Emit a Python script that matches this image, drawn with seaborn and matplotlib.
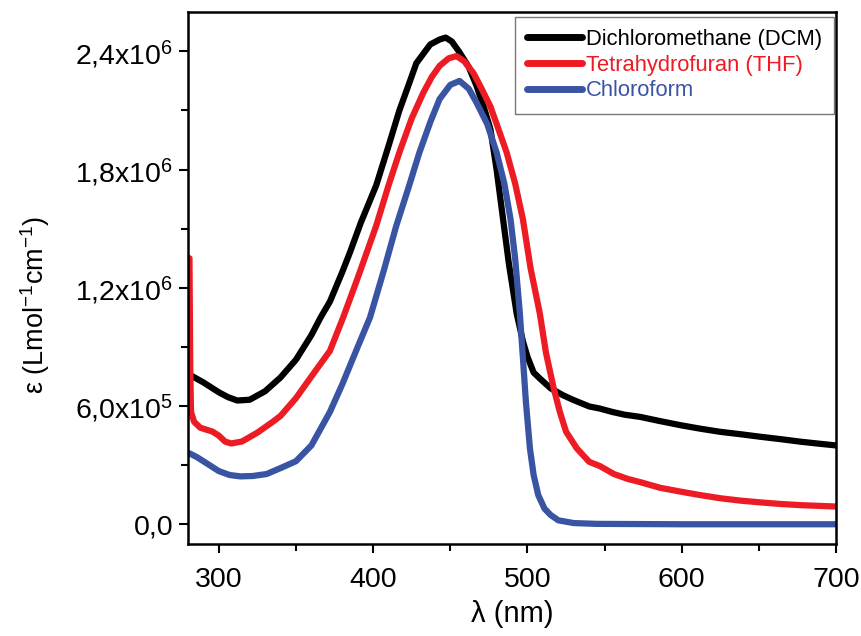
import pandas as pd
import matplotlib.pyplot as plt
import seaborn as sns
from matplotlib.ticker import MultipleLocator, FixedLocator

# Values (wavelength in nm, epsilon in 1e6 L/mol/cm)
dcm_x = [282, 290, 300, 306, 312, 320, 330, 340, 350, 360, 366, 372, 380, 385, 392,
         402, 410, 417, 423, 428, 437, 443, 447, 451, 456, 462, 467, 472, 476, 480,
         484, 488, 493, 497, 500, 504, 508, 515, 523, 530, 540, 547, 555, 563, 573,
         585, 599, 612, 625, 638, 651, 664, 677, 690, 700]
dcm_y = [0.755, 0.72, 0.67, 0.645, 0.628, 0.632, 0.675, 0.745, 0.835, 0.96, 1.05, 1.13,
         1.28, 1.38, 1.53, 1.72, 1.92, 2.10, 2.23, 2.34, 2.435, 2.46, 2.47, 2.45, 2.395,
         2.32, 2.225, 2.11, 2.005, 1.80, 1.56, 1.32, 1.07, 0.93, 0.85, 0.77, 0.74, 0.69,
         0.655, 0.63, 0.598, 0.587, 0.57, 0.556, 0.545, 0.525, 0.503, 0.485, 0.469,
         0.457, 0.444, 0.432, 0.419, 0.408, 0.40]

thf_x = [281, 281.5, 282, 284, 288, 292, 296, 300, 304, 308, 315, 325, 335, 340, 350,
         360, 372, 380.6, 390, 402, 410, 417, 425, 432.5, 438, 443, 449, 454, 459, 465,
         470, 476, 481, 486.5, 492, 497, 502, 508, 512, 517, 521, 525, 532, 540, 547,
         556, 565, 573, 586, 599, 612, 625, 638, 651, 664, 677, 690, 700]
thf_y = [1.35, 0.80, 0.57, 0.52, 0.49, 0.48, 0.47, 0.45, 0.42, 0.41, 0.42, 0.465, 0.52,
         0.55, 0.64, 0.75, 0.88, 1.05, 1.25, 1.515, 1.72, 1.887, 2.06, 2.19, 2.27, 2.326,
         2.365, 2.376, 2.35, 2.29, 2.215, 2.12, 2.01, 1.887, 1.73, 1.55, 1.30, 1.07, 0.87,
         0.69, 0.57, 0.47, 0.385, 0.317, 0.295, 0.255, 0.23, 0.214, 0.185, 0.166, 0.148,
         0.132, 0.12, 0.111, 0.103, 0.097, 0.093, 0.09]

chl_x = [281, 286, 292, 300, 307, 314, 322, 331, 340, 350, 360, 372, 380, 390, 398, 407,
         415, 423, 430, 437, 443, 450, 456, 462, 467, 474, 480, 485, 489, 492, 495, 497,
         499, 501.6, 504, 507, 511, 515, 520, 530, 545, 600, 700]
chl_y = [0.36, 0.34, 0.31, 0.27, 0.25, 0.243, 0.245, 0.255, 0.285, 0.32, 0.40, 0.57, 0.71,
         0.90, 1.05, 1.29, 1.515, 1.71, 1.887, 2.04, 2.157, 2.23, 2.25, 2.21, 2.14, 2.03,
         1.887, 1.73, 1.55, 1.35, 1.077, 0.85, 0.62, 0.385, 0.25, 0.148, 0.08, 0.047, 0.02,
         0.006, 0.002, 0.0, 0.0]

labels = ['Dichloromethane (DCM)', 'Tetrahydrofuran (THF)', 'Chloroform']
colors = ['#000000', '#ED1C24', '#3A54A4']
y_ticks = [0.0, 0.6e6, 1.2e6, 1.8e6, 2.4e6]
y_tick_labels = ['0,0', r'6,0x10$^{5}$', r'1,2x10$^{6}$', r'1,8x10$^{6}$', r'2,4x10$^{6}$']
x_ticks = [300, 400, 500, 600, 700]

frames = []
for name, xs, ys in zip(labels, [dcm_x, thf_x, chl_x], [dcm_y, thf_y, chl_y]):
    frames.append(pd.DataFrame({'wl': xs, 'eps': [v * 1e6 for v in ys], 'solvent': name}))
df = pd.concat(frames, ignore_index=True)

sns.set_style('ticks')
plt.rcParams['font.family'] = ['Liberation Sans', 'DejaVu Sans']
plt.rcParams['mathtext.fontset'] = 'custom'
plt.rcParams['mathtext.rm'] = 'Liberation Sans'
plt.rcParams['mathtext.it'] = 'Liberation Sans'
for k in ['text.color', 'axes.labelcolor', 'xtick.color', 'ytick.color', 'axes.edgecolor']:
    plt.rcParams[k] = 'black'

fig = plt.figure(figsize=(8.62, 6.36), dpi=100)
ax = fig.add_axes([0.218, 0.1447, 0.752, 0.8365])

sns.lineplot(data=df, x='wl', y='eps', hue='solvent', hue_order=labels,
             palette=colors, linewidth=4.5, sort=False, estimator=None, ax=ax)

ax.set_xlim(280, 700)
ax.set_ylim(-0.1e6, 2.6e6)
ax.xaxis.set_major_locator(FixedLocator(x_ticks))
ax.xaxis.set_minor_locator(MultipleLocator(50))
ax.set_yticks(y_ticks)
ax.set_yticklabels(y_tick_labels)
ax.yaxis.set_minor_locator(FixedLocator([0.3e6, 0.9e6, 1.5e6, 2.1e6]))
ax.tick_params(which='major', direction='out', length=6.5, width=1.5, labelsize=20.5)
ax.tick_params(axis='x', which='major', pad=10)
ax.tick_params(axis='y', which='major', pad=4)
ax.tick_params(which='minor', direction='out', length=5, width=1.5)
for s in ax.spines.values():
    s.set_linewidth(1.8)
    s.set_visible(True)

ax.set_xlabel('λ (nm)', fontsize=21, labelpad=5)
ax.set_ylabel(r'ε (Lmol$^{-1}$cm$^{-1}$)', fontsize=19.5)
ax.yaxis.set_label_coords(-0.21, 0.45)

leg = ax.legend(loc='upper right', bbox_to_anchor=(0.997, 0.991), borderaxespad=0,
                fontsize=15.8, handlelength=2.5, handletextpad=0.2, labelspacing=0.22,
                frameon=True, fancybox=False, borderpad=0.55)
leg.get_frame().set_edgecolor('#555555')
leg.get_frame().set_linewidth(1.0)
for text, c in zip(leg.get_texts(), colors):
    text.set_color(c)
for line in leg.get_lines():
    line.set_linewidth(5)
    line.set_solid_capstyle('round')

fig.savefig('out.png', dpi=100)
